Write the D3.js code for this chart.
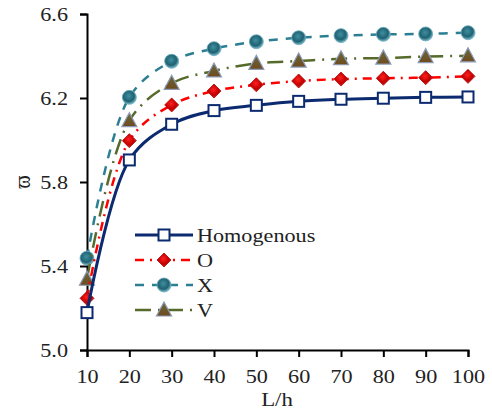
<!DOCTYPE html>
<html><head><meta charset="utf-8">
<script src="https://cdn.jsdelivr.net/npm/d3@7"></script>
<style>body{margin:0;background:#fff}svg{display:block}</style>
</head><body>
<svg id="c" width="492" height="414"></svg>
<script>
const xValues = [10,20,30,40,50,60,70,80,90,100];
const homogenous = [5.178,5.905,6.075,6.140,6.165,6.184,6.194,6.199,6.203,6.205];
const seriesO = [5.246,5.997,6.167,6.233,6.263,6.281,6.290,6.294,6.297,6.303];
const seriesX = [5.437,6.203,6.375,6.435,6.468,6.487,6.497,6.503,6.505,6.511];
const seriesV = [5.337,6.092,6.270,6.329,6.365,6.376,6.387,6.390,6.397,6.401];
const seriesNames = ["Homogenous","O","X","V"];
const yTicks = [5.0,5.4,5.8,6.2,6.6];
const xTicks = [10,20,30,40,50,60,70,80,90,100];

const svg = d3.select("#c");
const x = d3.scaleLinear().domain([10,100]).range([87,468]);
const y = d3.scaleLinear().domain([5.0,6.6]).range([350,14]);
const FONT = "'Liberation Serif','Times New Roman',serif";
const SX = 1.2;

const defs = svg.append("defs");
function radial(id, c0, c1, c2){
  const g = defs.append("radialGradient").attr("id",id).attr("cx","45%").attr("cy","40%").attr("r","65%");
  g.append("stop").attr("offset","0%").attr("stop-color",c0);
  g.append("stop").attr("offset","60%").attr("stop-color",c1);
  g.append("stop").attr("offset","100%").attr("stop-color",c2);
}
radial("gX","#3f8fa0","#1f6272","#8fd0e0");
radial("gO","#ff2020","#c00000","#e03030");
const lg = defs.append("linearGradient").attr("id","gV").attr("x1","0").attr("y1","0").attr("x2","0").attr("y2","1");
lg.append("stop").attr("offset","0%").attr("stop-color","#6b6a3a");
lg.append("stop").attr("offset","100%").attr("stop-color","#6e4a1e");

const series = [
  {name:seriesNames[0], vals:homogenous, color:"#0b2a6f", dash:null, w:3, marker:"square"},
  {name:seriesNames[1], vals:seriesO, color:"#ff0000", dash:"9,6,2,6", w:2.5, marker:"diamond"},
  {name:seriesNames[2], vals:seriesX, color:"#2c7f92", dash:"9,8", w:2.5, marker:"circle"},
  {name:seriesNames[3], vals:seriesV, color:"#566a2c", dash:"16,7,2,7", w:2.5, marker:"triangle"}
];

// axes
const xAxis = svg.append("g").attr("transform","translate(0,350)")
  .call(d3.axisBottom(x).tickValues(xTicks).tickSizeOuter(0).tickSize(7).tickPadding(10));
const yAxis = svg.append("g").attr("transform","translate(87,0)")
  .call(d3.axisLeft(y).tickValues(yTicks).tickFormat(d3.format(".1f")).tickSizeOuter(0).tickSize(7));
[xAxis,yAxis].forEach(a=>{
  a.select(".domain").attr("stroke","#000").attr("stroke-width",2);
  a.selectAll(".tick line").attr("stroke","#000").attr("stroke-width",2);
  a.selectAll(".tick text").attr("font-family",FONT).attr("font-size",18.5).attr("fill","#222");
});
xAxis.selectAll(".tick text").attr("dy",null).attr("y",null)
  .attr("transform",`translate(0,33) scale(${SX},1)`);
yAxis.selectAll(".tick text").attr("x",null).attr("dy","0.34em")
  .attr("transform",`translate(-19,0) scale(${SX},1)`);

// axis titles
svg.append("text").attr("transform",`translate(277,406) scale(${SX},1)`)
  .attr("text-anchor","middle").attr("font-family",FONT).attr("font-size",19).attr("fill","#222").text("L/h");
svg.append("text").attr("transform",`translate(30,182) rotate(-90) scale(1,${SX})`)
  .attr("text-anchor","middle").attr("font-family",FONT).attr("font-size",20).attr("fill","#222").text("ϖ");

function drawMarker(g, type, cx, cy, s){
  if(type==="square"){
    g.append("rect").attr("x",cx-5.5).attr("y",cy-5.5).attr("width",11).attr("height",11)
      .attr("fill","#fff").attr("stroke",s.color).attr("stroke-width",2);
  } else if(type==="diamond"){
    g.append("path").attr("d",`M${cx},${cy-7}L${cx+7},${cy}L${cx},${cy+7}L${cx-7},${cy}Z`)
      .attr("fill","url(#gO)").attr("stroke","#b00000").attr("stroke-width",0.8);
  } else if(type==="circle"){
    g.append("circle").attr("cx",cx).attr("cy",cy).attr("r",7)
      .attr("fill","url(#gX)").attr("stroke","#6aaabb").attr("stroke-width",0.8);
  } else {
    g.append("path").attr("d",`M${cx},${cy-8}L${cx+7.5},${cy+6}L${cx-7.5},${cy+6}Z`)
      .attr("fill","url(#gV)").attr("stroke","#8a9ab8").attr("stroke-width",1.2);
  }
}

const line = d3.line().x((d,i)=>x(xValues[i])).y(d=>y(d)).curve(d3.curveCatmullRom.alpha(0.5));
// draw in order so homogenous on top
[series[2],series[3],series[1],series[0]].forEach(s=>{
  const g = svg.append("g");
  g.append("path").datum(s.vals).attr("d",line).attr("fill","none")
    .attr("stroke",s.color).attr("stroke-width",s.w).attr("stroke-dasharray",s.dash);
  s.vals.forEach((v,i)=>drawMarker(g,s.marker,x(xValues[i]),y(v),s));
});

// legend
const leg = svg.append("g");
series.forEach((s,i)=>{
  const yy = 235 + i*25;
  leg.append("line").attr("x1",135).attr("x2",193).attr("y1",yy).attr("y2",yy)
    .attr("stroke",s.color).attr("stroke-width",s.w).attr("stroke-dasharray",s.dash);
  drawMarker(leg,s.marker,164,yy,s);
  leg.append("text").attr("transform",`translate(197,${yy+6.5}) scale(${SX},1)`)
    .attr("font-family",FONT).attr("font-size",18.5).attr("fill","#222").text(s.name);
});
</script>
</body></html>
